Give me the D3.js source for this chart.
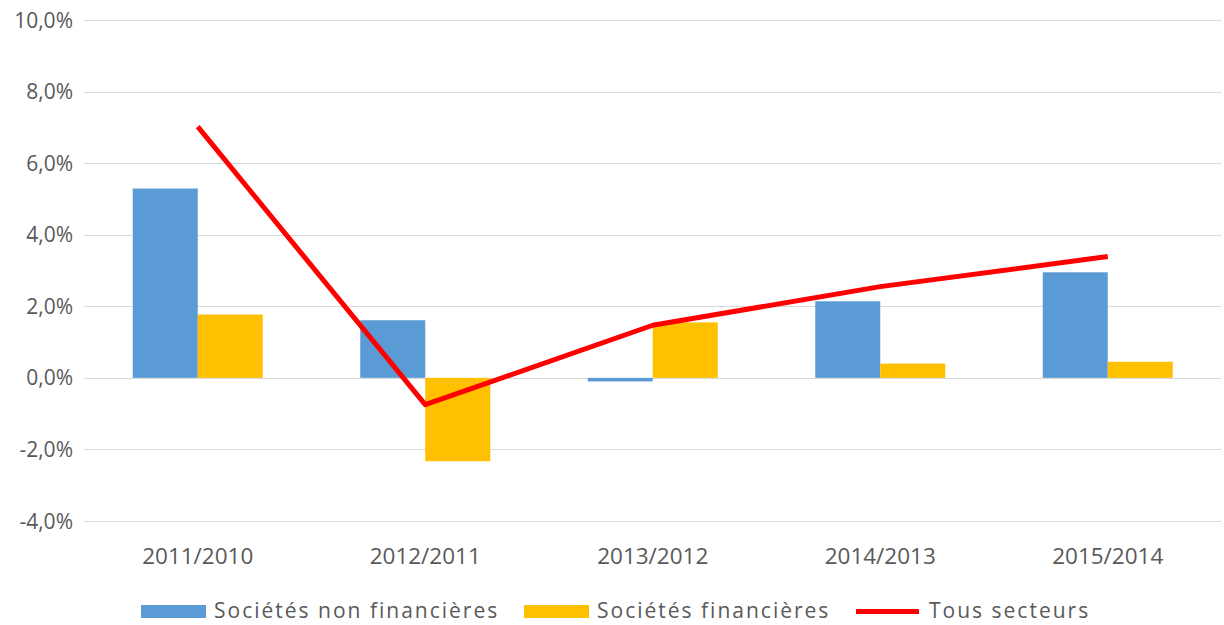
<!DOCTYPE html>
<html>
<head>
<meta charset="utf-8">
<script src="https://cdn.jsdelivr.net/npm/d3@7"></script>
<style>
  body { margin: 0; background: #fff; }
  svg text { font-family: "Open Sans", sans-serif; fill: #595959; }
</style>
</head>
<body>
<svg id="chart" width="1224" height="625"></svg>
<script>
// data (% change)
var categories = ["2011/2010", "2012/2011", "2013/2012", "2014/2013", "2015/2014"];
var nonFinancial = [5.29, 1.61, -0.10, 2.14, 2.95];
var financial = [1.77, -2.33, 1.55, 0.40, 0.45];
var allSectors = [7.02, -0.75, 1.47, 2.55, 3.39];
var yTicks = [-4, -2, 0, 2, 4, 6, 8, 10];
var seriesNames = ["Sociétés non financières", "Sociétés financières", "Tous secteurs"];

var colors = {nf: "#5B9BD5", f: "#FFC000", all: "#FF0000"};

var svg = d3.select("#chart");

var plotLeft = 84, plotRight = 1221.5, plotTop = 20, plotBottom = 521;

var y = d3.scaleLinear().domain([-4, 10]).range([plotBottom, plotTop]);
var x = d3.scaleBand().domain(categories).range([plotLeft, plotRight]).padding(0);
var groupW = 130;
var xs = d3.scaleBand().domain(["nf", "f"]).range([0, groupW]);
var off = (x.bandwidth() - groupW) / 2;

// gridlines
svg.append("g").selectAll("line")
  .data(yTicks)
  .join("line")
    .attr("x1", plotLeft).attr("x2", plotRight)
    .attr("y1", function(d) { return Math.round(y(d)) + 0.5; })
    .attr("y2", function(d) { return Math.round(y(d)) + 0.5; })
    .attr("stroke", "#D9D9D9")
    .attr("stroke-width", 1.2);

// y tick labels
var fmt = function(d) { return d3.format(".1f")(d).replace(".", ",").replace("−", "-") + "%"; };
svg.append("g").selectAll("text")
  .data(yTicks)
  .join("text")
    .attr("x", 73)
    .attr("y", function(d) { return y(d); })
    .attr("dy", "0.36em")
    .attr("text-anchor", "end")
    .style("font-size", "21px")
    .text(fmt);

// bars
var rows = categories.map(function(c, i) { return {cat: c, nf: nonFinancial[i], f: financial[i]}; });
var groups = svg.append("g").selectAll("g")
  .data(rows)
  .join("g")
    .attr("transform", function(d) { return "translate(" + (x(d.cat) + off) + ",0)"; });

groups.selectAll("rect")
  .data(function(d) { return ["nf", "f"].map(function(k) { return {key: k, value: d[k]}; }); })
  .join("rect")
    .attr("x", function(d) { return xs(d.key); })
    .attr("width", xs.bandwidth())
    .attr("y", function(d) { return y(Math.max(0, d.value)); })
    .attr("height", function(d) { return Math.abs(y(d.value) - y(0)); })
    .attr("fill", function(d) { return colors[d.key]; });

// line
var line = d3.line()
  .x(function(d, i) { return x(categories[i]) + x.bandwidth() / 2; })
  .y(function(d) { return y(d); });

svg.append("path")
  .datum(allSectors)
  .attr("d", line)
  .attr("fill", "none")
  .attr("stroke", colors.all)
  .attr("stroke-width", 5)
  .attr("stroke-linejoin", "round");

// x labels
svg.append("g").selectAll("text")
  .data(categories)
  .join("text")
    .attr("x", function(d) { return x(d) + x.bandwidth() / 2; })
    .attr("y", 564)
    .attr("text-anchor", "middle")
    .style("font-size", "22.5px")
    .text(function(d) { return d; });

// legend
var legend = svg.append("g");
var legendItems = [
  {name: seriesNames[0], color: colors.nf, x: 141, type: "rect"},
  {name: seriesNames[1], color: colors.f, x: 524, type: "rect"},
  {name: seriesNames[2], color: colors.all, x: 856, type: "line"}
];
legendItems.forEach(function(it) {
  if (it.type === "rect") {
    legend.append("rect")
      .attr("x", it.x).attr("y", 605)
      .attr("width", 65).attr("height", 13)
      .attr("fill", it.color);
  } else {
    legend.append("line")
      .attr("x1", it.x).attr("x2", it.x + 63)
      .attr("y1", 611.5).attr("y2", 611.5)
      .attr("stroke", it.color)
      .attr("stroke-width", 5);
  }
  legend.append("text")
    .attr("x", it.x + 73)
    .attr("y", 618)
    .style("font-size", "21px")
    .style("letter-spacing", "2px")
    .text(it.name);
});
</script>
</body>
</html>
